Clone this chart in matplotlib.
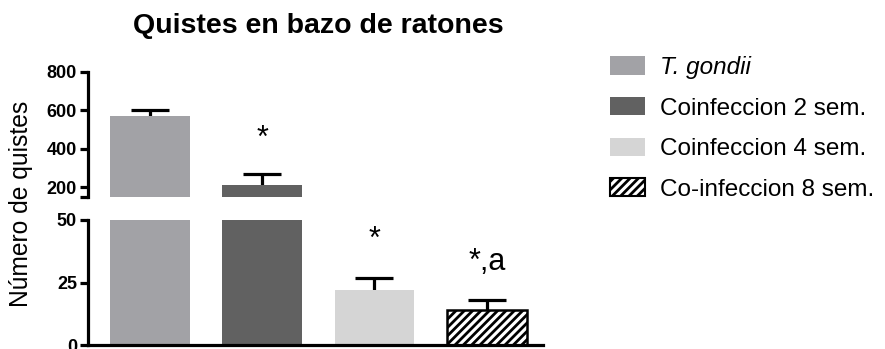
import matplotlib
matplotlib.use("Agg")
import matplotlib.pyplot as plt
from matplotlib.patches import Patch
import numpy as np

plt.rcParams['font.family'] = ['Liberation Sans', 'DejaVu Sans']
plt.rcParams['hatch.linewidth'] = 2.0

groups = ["T. gondii", "Coinfeccion 2 sem.", "Coinfeccion 4 sem.", "Co-infeccion 8 sem."]
means = [570, 210, 22, 14]
sem = [30, 58, 5, 4]
signif = ["", "*", "*", "*,a"]
colors = ["#A2A2A6", "#616161", "#D5D5D5", "white"]
hatches = ["", "", "", "////"]
upper_ticks = [200, 400, 600, 800]
lower_ticks = [0, 25, 50]

W, H = 885, 349
fig = plt.figure(figsize=(W / 100, H / 100), dpi=100)

def box(x0, y0, x1, y1):
    return [x0 / W, 1 - y1 / H, (x1 - x0) / W, (y1 - y0) / H]

ax_top = fig.add_axes(box(88, 72, 543, 197))
ax_bot = fig.add_axes(box(88, 220, 543, 345))

x = np.arange(len(groups))
m = np.array(means)
e = np.array(sem)
lw = 2.3
for ax in (ax_top, ax_bot):
    for i in range(len(groups)):
        ax.bar(x[i], means[i], width=0.71, color=colors[i], hatch=hatches[i],
               edgecolor="black" if hatches[i] else colors[i],
               linewidth=1.8 if hatches[i] else 0, zorder=2)
    # upper half of the SEM whiskers, with a cap at mean + SEM
    ax.errorbar(x, m, yerr=[np.zeros_like(e), e], fmt="none",
                ecolor="black", elinewidth=lw, capsize=0, zorder=1)
    ax.plot(x, m + e, linestyle="none", marker="_", markersize=27,
            markeredgewidth=lw, color="black", zorder=3)
    ax.set_xlim(-0.55, 3.5)
    for s in ("top", "right"):
        ax.spines[s].set_visible(False)
    ax.spines["left"].set_linewidth(lw)
    ax.set_xticks([])
    ax.tick_params(axis="y", width=lw, length=6, labelsize=13, pad=2)

ax_top.set_ylim(150, 800)
ax_top.set_yticks(upper_ticks + [150])
ax_top.set_yticklabels([str(t) for t in upper_ticks] + [""], fontweight="bold")
ax_top.spines["bottom"].set_visible(False)

ax_bot.set_ylim(0, 50)
ax_bot.set_yticks(lower_ticks)
ax_bot.set_yticklabels([str(t) for t in lower_ticks], fontweight="bold")
ax_bot.spines["bottom"].set_linewidth(lw)

# significance marks
ax_top.text(x[1], means[1] + sem[1] + 140, signif[1], ha="center", va="baseline", fontsize=22)
ax_bot.text(x[2], means[2] + sem[2] + 12, signif[2], ha="center", va="baseline", fontsize=22)
ax_bot.text(x[3], means[3] + sem[3] + 12, signif[3], ha="center", va="baseline", fontsize=22)

fig.text(318.5 / W, 1 - 33 / H, "Quistes en bazo de ratones", ha="center", va="baseline",
         fontsize=20.5, fontweight="bold")
fig.text(21 / W, 1 - 204 / H, "Número de quistes", rotation=90, ha="center", va="center",
         fontsize=17.7)

handles = [Patch(facecolor=colors[i], hatch=hatches[i],
                 edgecolor="black" if hatches[i] else colors[i],
                 linewidth=1.5 if hatches[i] else 0) for i in range(len(groups))]
leg = fig.legend(handles, groups, loc="upper left", bbox_to_anchor=(610 / W, 1 - 56 / H),
                 frameon=False, fontsize=17.5, handlelength=1.45, handleheight=0.78,
                 labelspacing=0.74, handletextpad=0.6, borderpad=0, borderaxespad=0)
leg.get_texts()[0].set_style("italic")

fig.savefig("out.png", dpi=100)
